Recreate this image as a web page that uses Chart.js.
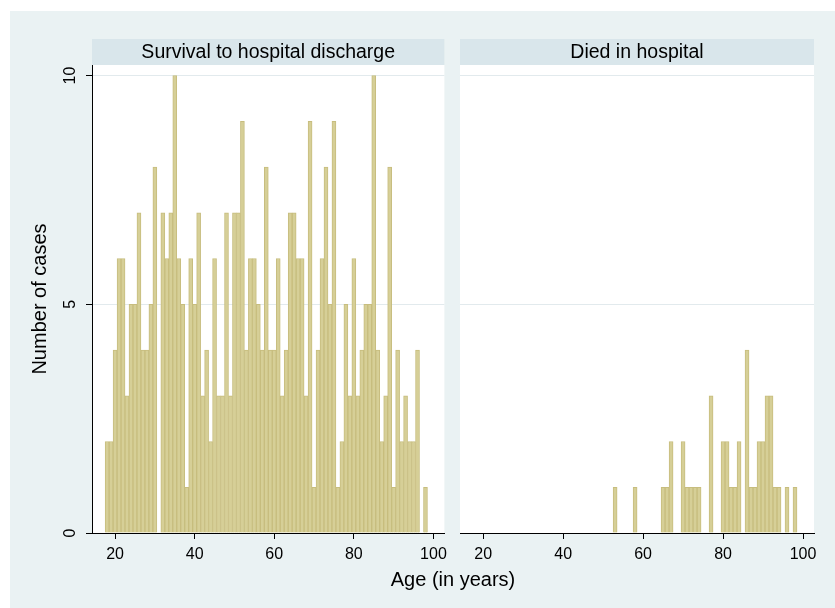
<!DOCTYPE html>
<html>
<head>
<meta charset="utf-8">
<script src="https://cdn.jsdelivr.net/npm/chart.js@4.4.1/dist/chart.umd.min.js"></script>
<style>
  html, body { margin: 0; padding: 0; background: #fff; }
  #page { position: relative; width: 835px; height: 608px; overflow: hidden; }
  #bg { position: absolute; left: 10px; top: 11px; width: 825px; height: 597px; background: #eaf2f3; }
  canvas { position: absolute; top: 0; }
  #left-chart { left: 0; }
  #right-chart { left: 453px; }
  #x-title { position: absolute; left: 353px; width: 200px; top: 568px; line-height: 24px; text-align: center;
             font: 20px "Liberation Sans", Arial, sans-serif; color: #000; }
</style>
</head>
<body>
<div id="page">
  <div id="bg"></div>
  <canvas id="left-chart" width="453" height="608"></canvas>
  <canvas id="right-chart" width="382" height="608"></canvas>
  <div id="x-title">Age (in years)</div>
</div>
<script>
// ages (one-year bins) and number of cases per age
const ages = [18, 19, 20, 21, 22, 23, 24, 25, 26, 27, 28, 29, 30, 31, 32, 33, 34, 35, 36, 37,
              38, 39, 40, 41, 42, 43, 44, 45, 46, 47, 48, 49, 50, 51, 52, 53, 54, 55, 56, 57,
              58, 59, 60, 61, 62, 63, 64, 65, 66, 67, 68, 69, 70, 71, 72, 73, 74, 75, 76, 77,
              78, 79, 80, 81, 82, 83, 84, 85, 86, 87, 88, 89, 90, 91, 92, 93, 94, 95, 96, 97, 98];

const survived = [2, 2, 4, 6, 6, 3, 5, 5, 7, 4, 4, 5, 8, 0, 7, 6, 7, 10, 6, 5,
                  1, 6, 5, 7, 3, 4, 2, 6, 3, 3, 7, 3, 7, 7, 9, 4, 6, 6, 5, 4,
                  8, 4, 4, 6, 3, 4, 7, 7, 6, 6, 3, 9, 1, 4, 6, 8, 5, 9, 1, 2,
                  5, 3, 6, 3, 4, 5, 5, 10, 4, 2, 3, 8, 1, 4, 2, 3, 2, 2, 4, 0, 1];

const died = [0, 0, 0, 0, 0, 0, 0, 0, 0, 0, 0, 0, 0, 0, 0, 0, 0, 0, 0, 0,
              0, 0, 0, 0, 0, 0, 0, 0, 0, 0, 0, 0, 0, 0, 0, 1, 0, 0, 0, 0,
              1, 0, 0, 0, 0, 0, 0, 1, 1, 2, 0, 0, 2, 1, 1, 1, 1, 0, 0, 3,
              0, 0, 2, 2, 1, 1, 2, 0, 4, 1, 1, 2, 2, 3, 3, 1, 1, 0, 1, 0, 1];

const panelTitles = ['Survival to hospital discharge', 'Died in hospital'];
const xTicks = [20, 40, 60, 80, 100];
const yTicks = [0, 5, 10];

const FONT = '"Liberation Sans", Arial, sans-serif';
Chart.defaults.font.family = FONT;
Chart.defaults.color = '#000';

// grey-blue strip with the panel name, and white plot region
const stripPlugin = {
    id: 'strip',
    beforeDraw(chart, args, opts) {
        const { ctx, chartArea: a } = chart;
        ctx.save();
        ctx.fillStyle = '#ffffff';
        ctx.fillRect(a.left, a.top, a.right - a.left, a.bottom - a.top);
        ctx.fillStyle = '#d9e6eb';
        ctx.fillRect(a.left, a.top - 26, a.right - a.left, 26);
        ctx.fillStyle = '#000';
        ctx.font = '19.5px ' + FONT;
        ctx.textAlign = 'center';
        ctx.textBaseline = 'middle';
        ctx.fillText(opts.text, (a.left + a.right) / 2, a.top - 12);
        ctx.restore();
    }
};

function makePanel(id, counts, title, isLeft) {
    return new Chart(document.getElementById(id), {
        type: 'bar',
        data: {
            datasets: [{
                data: ages.map((a, i) => ({ x: a, y: counts[i] })),
                backgroundColor: '#d6cf97',
                borderColor: '#c7bd7e',
                borderWidth: 1,
                barPercentage: 1,
                categoryPercentage: 1
            }]
        },
        options: {
            responsive: false,
            animation: false,
            layout: {
                padding: isLeft ? { left: 0, right: 7, top: 65, bottom: 0 }
                                : { left: 7, right: 21, top: 65, bottom: 0 }
            },
            plugins: {
                legend: { display: false },
                tooltip: { enabled: false },
                strip: { text: title }
            },
            scales: {
                x: {
                    type: 'linear',
                    offset: false,
                    min: 14.2,
                    max: 102.75,
                    afterBuildTicks: s => { s.ticks = xTicks.map(v => ({ value: v })); },
                    afterFit: s => { s.height = 75; },
                    grid: { offset: false, drawOnChartArea: false, tickLength: 6, tickColor: '#000', tickWidth: 1 },
                    border: { color: '#000', width: 1 },
                    ticks: { font: { size: 16 }, padding: 6, maxRotation: 0, autoSkip: false }
                },
                y: {
                    min: 0,
                    max: 10.23,
                    afterBuildTicks: s => { s.ticks = yTicks.map(v => ({ value: v })); },
                    afterFit: s => { s.width = isLeft ? 92 : 0; },
                    grid: {
                        color: c => (c.tick && c.tick.value === 0) ? 'rgba(0,0,0,0)' : '#e2eaed',
                        lineWidth: 1,
                        drawTicks: isLeft,
                        tickLength: 6,
                        tickColor: '#000'
                    },
                    border: { display: isLeft, color: '#000', width: 1 },
                    ticks: {
                        display: isLeft,
                        font: { size: 16 },
                        minRotation: 90,
                        maxRotation: 90,
                        crossAlign: 'center',
                        padding: 7
                    },
                    title: {
                        display: isLeft,
                        text: 'Number of cases',
                        font: { size: 20 },
                        padding: { top: 28, bottom: 0 }
                    }
                }
            }
        },
        plugins: [stripPlugin]
    });
}

makePanel('left-chart', survived, panelTitles[0], true);
makePanel('right-chart', died, panelTitles[1], false);
</script>
</body>
</html>
